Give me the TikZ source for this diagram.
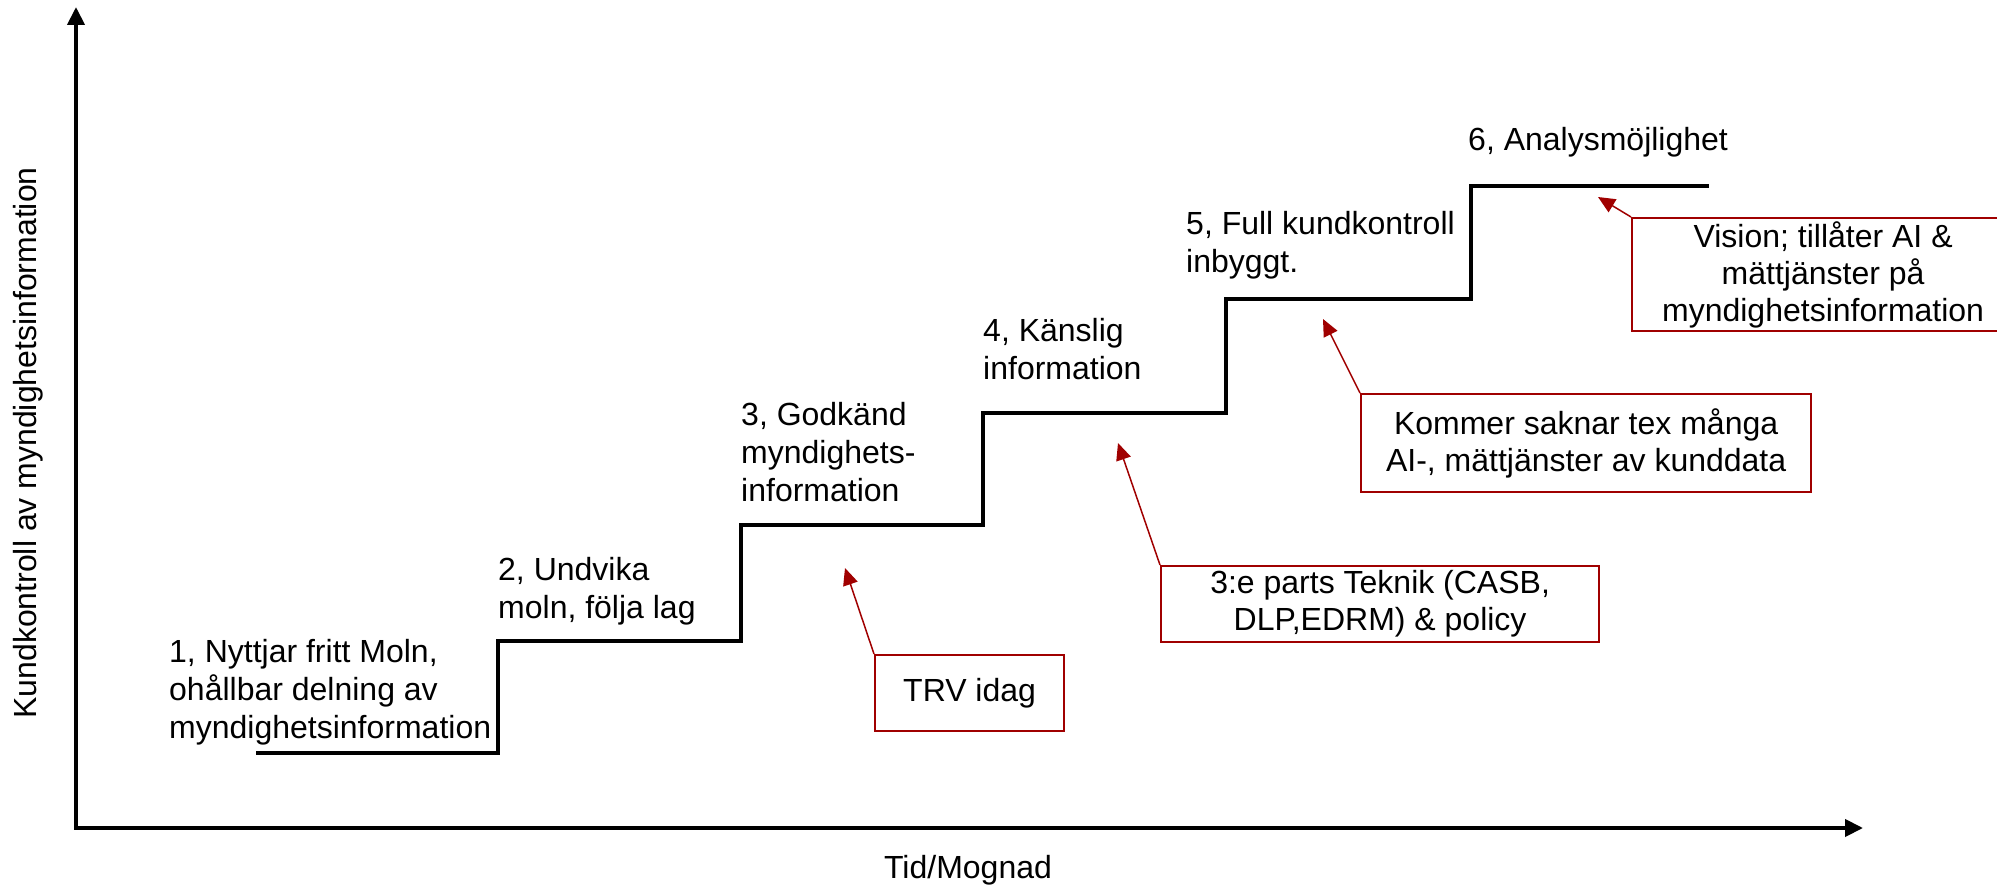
\documentclass[tikz,border=0pt]{standalone}
\usepackage{fontspec}
\setmainfont{Liberation Sans}
\usetikzlibrary{arrows.meta}
\definecolor{dred}{RGB}{160,0,0}
\begin{document}
\begin{tikzpicture}[x=1pt,y=-1pt,
  lbl/.style={font=\fontsize{32}{38}\selectfont, align=left, inner sep=0pt, anchor=north west},
  rbox/.style={draw=dred, line width=2.2pt, font=\fontsize{32}{37}\selectfont, align=center, inner sep=0pt, anchor=north west},
  rarrow/.style={dred, line width=1.5pt, -{Triangle[length=17pt,width=15pt]}},
  axisline/.style={line width=4pt, {Triangle[length=18pt,width=17pt]}-{Triangle[length=18pt,width=17pt]}},
  stair/.style={line width=4pt}]
\useasboundingbox (0,0) rectangle (1997,885);
% axes
\coordinate (ytop) at (76,7);
\coordinate (O) at (76,828);
\coordinate (xend) at (1863,828);
\draw[axisline] (ytop) -- (O) -- (xend);
\node[font=\fontsize{32}{38}\selectfont] (xlab) at (968,870) {Tid/Mognad};
\node[font=\fontsize{32}{38}\selectfont, rotate=90] (ylab) at (28,443) {Kundkontroll av myndighetsinformation};
% stairs
\draw[stair] (256,753) -- (498,753) -- (498,641) -- (741,641) -- (741,525) -- (983,525) -- (983,413) -- (1226,413) -- (1226,299) -- (1471,299) -- (1471,186) -- (1709,186);
% step labels
\node[lbl] (s1) at (169,639) {1, Nyttjar fritt Moln,\\oh\r{a}llbar delning av\\myndighetsinformation};
\node[lbl] (s2) at (498,557) {2, Undvika\\moln, f\"olja lag};
\node[lbl] (s3) at (741,402) {3, Godk\"and\\myndighets-\\information};
\node[lbl] (s4) at (983,318) {4, K\"anslig\\information};
\node[lbl] (s5) at (1186,211) {5, Full kundkontroll\\inbyggt.};
\node[lbl] (s6) at (1468,127) {6, Analysm\"ojlighet};
% red boxes
\node[rbox, minimum width=189pt, minimum height=76pt] (trv) at (874,654) {TRV idag};
\node[rbox, minimum width=438pt, minimum height=76pt] (tp) at (1160,565) {3:e parts Teknik (CASB,\\DLP,EDRM) \& policy};
\node[rbox, minimum width=450pt, minimum height=98pt] (kom) at (1360,393) {Kommer saknar tex m\r{a}nga\\AI-, m\"attj\"anster av kunddata};
\node[rbox, minimum width=382pt, minimum height=113pt] (vis) at (1631,217) {Vision; till\r{a}ter AI \&\\m\"attj\"anster p\r{a}\\myndighetsinformation};
% arrow tips
\coordinate (t1) at (845,568);
\coordinate (t2) at (1118,443);
\coordinate (t3) at (1323,319);
\coordinate (t4) at (1598,197);
\draw[rarrow] (trv.north west) -- (t1);
\draw[rarrow] (tp.north west) -- (t2);
\draw[rarrow] (kom.north west) -- (t3);
\draw[rarrow] (vis.north west) -- (t4);
\end{tikzpicture}
\end{document}
